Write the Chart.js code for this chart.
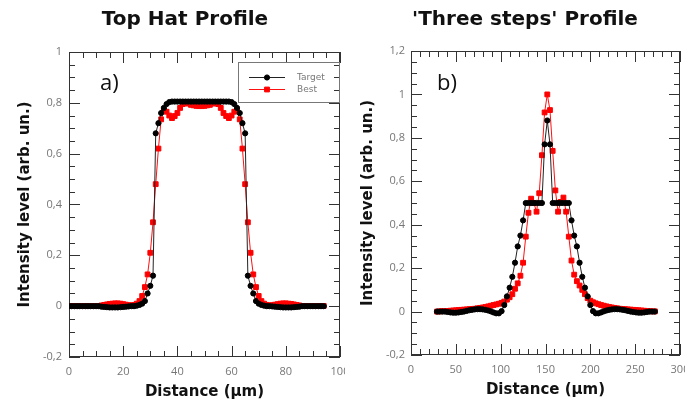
<!DOCTYPE html>
<html>
<head>
<meta charset="utf-8">
<script src="https://cdn.jsdelivr.net/npm/chart.js@4.4.1/dist/chart.umd.min.js"></script>
<style>
  html, body { margin: 0; padding: 0; background: #fff; }
  #wrap { position: relative; width: 685px; height: 401px; overflow: hidden; }
  #wrap canvas { position: absolute; top: 0; }
  #cA { left: 0; }
  #cB { left: 345px; }
</style>
</head>
<body>
<div id="wrap">
  <canvas id="cA" width="345" height="401"></canvas>
  <canvas id="cB" width="340" height="401"></canvas>
</div>
<script>
// ---- Top hat profile: distance (µm) and intensity ----
const distTopHat = [
  0,1,2,3,4,5,6,7,8,9,10,11,12,13,14,15,16,17,18,19,20,21,22,23,24,25,26,27,28,29,
  30,31,32,33,34,35,36,37,38,39,40,41,42,43,44,45,46,47,48,49,50,51,52,53,54,55,56,57,58,59,
  60,61,62,63,64,65,66,67,68,69,70,71,72,73,74,75,76,77,78,79,80,81,82,83,84,85,86,87,88,89,
  90,91,92,93,94
];
const targetTopHat = [
  0,0,0,0,0,0,0,0,0,0,0,0,
  -0.002,-0.003,-0.004,-0.005,-0.005,-0.005,-0.005,-0.004,-0.003,-0.002,-0.001,
  0,0,0.002,0.005,0.01,0.02,0.05,0.08,0.12,0.68,0.72,0.76,0.78,0.795,0.803,
  0.805,0.805,0.805,0.805,0.805,0.805,0.805,0.805,0.805,0.805,0.805,
  0.805,0.805,0.805,0.805,0.805,0.805,0.805,0.805,0.805,0.805,0.805,
  0.803,0.795,0.78,0.76,0.72,0.68,0.12,0.08,0.05,0.02,0.01,0.005,0.002,
  0,0,-0.001,-0.002,-0.003,-0.004,-0.005,-0.005,-0.005,-0.005,-0.004,-0.003,-0.002,
  0,0,0,0,0,0,0,0,0
];
const bestTopHat = [
  0.001,0.001,0.001,0.001,0.001,0.001,0.001,0.001,0.001,0.001,0.001,0.001,
  0.003,0.005,0.007,0.009,0.01,0.011,0.011,0.01,0.008,0.006,0.004,0.003,
  0.005,0.01,0.02,0.04,0.075,0.125,0.21,0.33,0.48,0.62,0.735,0.77,0.765,0.75,0.74,0.748,0.76,0.78,0.795,0.802,
  0.797,0.792,0.79,0.788,0.787,0.787,0.788,0.79,0.792,0.797,0.802,
  0.795,0.78,0.76,0.748,0.74,0.75,0.765,0.77,0.735,0.62,0.48,0.33,0.21,0.125,0.075,0.04,0.02,0.01,0.005,
  0.003,0.004,0.006,0.008,0.01,0.011,0.011,0.01,0.009,0.007,0.005,0.003,
  0.001,0.001,0.001,0.001,0.001,0.001,0.001,0.001,0.001
];

// ---- 'Three steps' profile ----
const distSteps = [
  29,32,35,38,41,44,47,50,53,56,59,62,65,68,71,74,77,80,83,86,89,92,95,98,101,104,107,110,113,116,
  119,122,125,128,131,134,137,140,143,146,149,152,155,158,161,164,167,170,173,176,179,182,185,188,
  191,194,197,200,203,206,209,212,215,218,221,224,227,230,233,236,239,242,245,248,251,254,257,260,
  263,266,269,272
];
const targetSteps = [
  0,0,0,0,-0.002,-0.004,-0.005,-0.005,-0.004,-0.002,0,0.003,0.006,0.008,0.01,0.011,0.011,0.01,0.008,0.005,
  0.001,-0.004,-0.008,-0.008,0.002,0.03,0.07,0.11,0.16,0.225,0.3,0.35,0.42,0.5,0.5,0.5,0.5,0.5,0.5,0.5,
  0.77,0.88,0.77,0.5,0.5,0.5,0.5,0.5,0.5,0.5,0.42,0.35,0.3,0.225,0.16,0.11,0.07,0.03,0.002,-0.008,
  -0.008,-0.004,0.001,0.005,0.008,0.01,0.011,0.011,0.01,0.008,0.006,0.003,0,-0.002,-0.004,-0.005,-0.005,-0.004,
  -0.002,0,0,0
];
const bestSteps = [
  0,0.001,0.002,0.002,0.003,0.004,0.005,0.006,0.007,0.008,0.009,0.01,0.011,0.012,0.013,0.015,0.017,0.019,0.021,0.024,
  0.027,0.03,0.033,0.036,0.04,0.046,0.055,0.066,0.08,0.105,0.13,0.165,0.225,0.345,0.455,0.52,0.5,0.46,0.545,0.72,
  0.917,1.0,0.928,0.74,0.558,0.46,0.505,0.525,0.46,0.345,0.235,0.17,0.14,0.12,0.1,0.08,0.062,0.05,0.043,0.038,
  0.034,0.03,0.027,0.024,0.021,0.019,0.017,0.015,0.013,0.012,0.011,0.01,0.009,0.008,0.007,0.006,0.005,0.004,
  0.003,0.002,0.001,0.001
];

const seriesNames = ['Target', 'Best'];
const panelTitles = ['Top Hat Profile', "'Three steps' Profile"];
const panelTags = ['a)', 'b)'];
const xAxisTitle = 'Distance (µm)';
const yAxisTitle = 'Intensity level (arb. un.)';

const pairs = (xs, ys) => xs.map((x, i) => ({ x: x, y: ys[i] }));
const decimalComma = v => String(Math.round(v * 10) / 10).replace('.', ',');

// Box frame with inward major/minor ticks on all four sides
const frameTicks = {
  id: 'frameTicks',
  beforeDatasetsDraw(chart, _args, o) {
    const { ctx, chartArea: a } = chart;
    const sx = chart.scales.x, sy = chart.scales.y;
    const L = a.left, R = a.right, T = a.top, B = a.bottom;
    ctx.save();
    ctx.strokeStyle = o.color;
    ctx.lineWidth = 1;
    ctx.strokeRect(L + 0.5, T + 0.5, R - L - 1, B - T - 1);
    ctx.beginPath();
    const nx = Math.round((sx.max - sx.min) / o.xMinor);
    for (let i = 0; i <= nx; i++) {
      const v = sx.min + i * o.xMinor;
      const q = v / o.xMajor;
      const len = Math.abs(q - Math.round(q)) < 1e-6 ? o.major : o.minor;
      const p = Math.round(sx.getPixelForValue(v)) + 0.5;
      ctx.moveTo(p, B); ctx.lineTo(p, B - len);
      ctx.moveTo(p, T); ctx.lineTo(p, T + len);
    }
    const ny = Math.round((sy.max - sy.min) / o.yMinor);
    for (let i = 0; i <= ny; i++) {
      const v = sy.min + i * o.yMinor;
      const q = v / o.yMajor;
      const len = Math.abs(q - Math.round(q)) < 1e-6 ? o.major : o.minor;
      const p = Math.round(sy.getPixelForValue(v)) + 0.5;
      ctx.moveTo(L, p); ctx.lineTo(L + len, p);
      ctx.moveTo(R, p); ctx.lineTo(R - len, p);
    }
    ctx.stroke();
    ctx.restore();
  }
};

// Panel heading, panel tag and the boxed legend
const panelText = {
  id: 'panelText',
  afterDraw(chart, _args, o) {
    const ctx = chart.ctx;
    ctx.save();
    ctx.fillStyle = '#111';
    ctx.textAlign = 'center';
    ctx.textBaseline = 'middle';
    ctx.font = 'bold 20px "DejaVu Sans"';
    ctx.fillText(o.title, o.titleX, o.titleY);
    ctx.textAlign = 'left';
    ctx.font = '22px "Open Sans"';
    ctx.fillText(o.tag, o.tagX, o.tagY);
    if (o.legend) {
      const lb = o.legend;
      ctx.strokeStyle = '#777';
      ctx.lineWidth = 1;
      ctx.strokeRect(lb.x + 0.5, lb.y + 0.5, lb.w, lb.h);
      chart.data.datasets.forEach((ds, i) => {
        const yy = lb.y + 15 + i * 12;
        ctx.strokeStyle = ds.borderColor;
        ctx.beginPath();
        ctx.moveTo(lb.x + 11, yy + 0.5);
        ctx.lineTo(lb.x + 47, yy + 0.5);
        ctx.stroke();
        ctx.fillStyle = ds.pointBackgroundColor;
        ctx.strokeStyle = ds.pointBorderColor;
        Chart.helpers.drawPoint(ctx, { pointStyle: ds.pointStyle, radius: ds.pointRadius, rotation: 0, borderWidth: 1 }, lb.x + 29, yy + 0.5);
        ctx.fillStyle = '#777';
        ctx.font = '9px "DejaVu Sans"';
        ctx.fillText(ds.label, lb.x + 59, yy + 0.5);
      });
    }
    ctx.restore();
  }
};

function datasets(xs, target, best) {
  return [
    {
      label: seriesNames[0], data: pairs(xs, target),
      borderColor: '#222', borderWidth: 1,
      pointStyle: 'circle', pointRadius: 2.6,
      pointBackgroundColor: '#000', pointBorderColor: '#000', pointBorderWidth: 1
    },
    {
      label: seriesNames[1], data: pairs(xs, best),
      borderColor: '#ff1010', borderWidth: 1,
      pointStyle: 'rect', pointRadius: 3.4,
      pointBackgroundColor: '#ff0000', pointBorderColor: '#ff0000', pointBorderWidth: 1
    }
  ];
}

function scales(cfg) {
  const tickFont = { family: 'Open Sans', size: 11 };
  const titleFont = { family: 'DejaVu Sans', size: 15, weight: 'bold' };
  return {
    x: {
      type: 'linear', min: cfg.xMin, max: cfg.xMax,
      ticks: { stepSize: cfg.xStep, padding: 8, color: '#777', font: tickFont, maxRotation: 0 },
      grid: { display: false, drawTicks: false },
      border: { display: false },
      title: { display: true, text: xAxisTitle, color: '#111', font: titleFont, padding: { top: 0, bottom: cfg.xTitlePad } },
      afterFit: s => { s.height = cfg.xHeight; s.paddingLeft = 0; s.paddingRight = 0; s.paddingTop = 0; s.paddingBottom = 0; }
    },
    y: {
      type: 'linear', min: cfg.yMin, max: cfg.yMax,
      ticks: { stepSize: 0.2, padding: cfg.yTickPad, color: '#777', font: tickFont, callback: v => decimalComma(v) },
      grid: { display: false, drawTicks: false },
      border: { display: false },
      title: { display: true, text: yAxisTitle, color: '#111', font: titleFont, padding: { top: cfg.yTitlePad, bottom: 0 } },
      afterFit: s => { s.width = cfg.yWidth; s.paddingLeft = 0; s.paddingRight = 0; s.paddingTop = 0; s.paddingBottom = 0; }
    }
  };
}

new Chart(document.getElementById('cA'), {
  type: 'line',
  data: { datasets: datasets(distTopHat, targetTopHat, bestTopHat) },
  options: {
    responsive: false, animation: false, events: [],
    layout: { padding: { left: 0, right: 2, top: 52, bottom: 0 } },
    scales: scales({ xMin: 0, xMax: 100, xStep: 20, xHeight: 44, xTitlePad: 0,
                     yMin: -0.2, yMax: 1, yWidth: 69, yTickPad: 7, yTitlePad: 16 }),
    plugins: {
      legend: { display: false }, tooltip: { enabled: false },
      frameTicks: { color: '#333', xMajor: 20, xMinor: 5, yMajor: 0.2, yMinor: 0.05, major: 11, minor: 6 },
      panelText: { title: panelTitles[0], titleX: 185, titleY: 20, tag: panelTags[0], tagX: 100, tagY: 84,
                   legend: { x: 238, y: 62, w: 101, h: 40 } }
    }
  },
  plugins: [frameTicks, panelText]
});

new Chart(document.getElementById('cB'), {
  type: 'line',
  data: { datasets: datasets(distSteps, targetSteps, bestSteps) },
  options: {
    responsive: false, animation: false, events: [],
    layout: { padding: { left: 0, right: 1, top: 51, bottom: 0 } },
    scales: scales({ xMin: 0, xMax: 300, xStep: 50, xHeight: 46, xTitlePad: 2,
                     yMin: -0.2, yMax: 1.2, yWidth: 66, yTickPad: 6, yTitlePad: 14 }),
    plugins: {
      legend: { display: false }, tooltip: { enabled: false },
      frameTicks: { color: '#333', xMajor: 50, xMinor: 10, yMajor: 0.2, yMinor: 0.05, major: 11, minor: 6 },
      panelText: { title: panelTitles[1], titleX: 180, titleY: 20, tag: panelTags[1], tagX: 92, tagY: 84 }
    }
  },
  plugins: [frameTicks, panelText]
});
</script>
</body>
</html>
